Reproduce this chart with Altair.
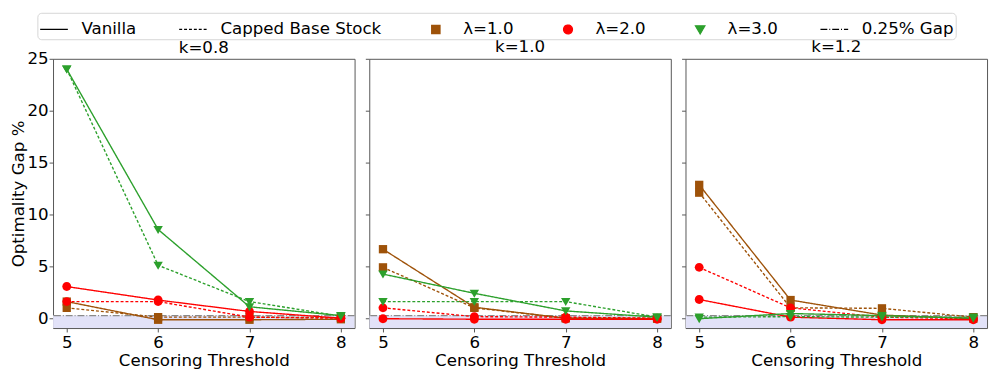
import altair as alt
import pandas as pd

thresholds = [5, 6, 7, 8]
lambdas = ["λ=1.0", "λ=2.0", "λ=3.0"]
styles = ["Vanilla", "Capped Base Stock"]

k08_l1_vanilla = [1.6, -0.15, -0.15, -0.1]
k08_l1_capped = [1.0, 0.1, 0.1, 0.05]
k08_l2_vanilla = [3.05, 1.75, 0.65, 0.0]
k08_l2_capped = [1.6, 1.6, 0.1, 0.0]
k08_l3_vanilla = [24.0, 8.55, 1.1, 0.25]
k08_l3_capped = [24.0, 5.1, 1.6, 0.2]

k10_l1_vanilla = [6.65, 1.05, 0.0, -0.05]
k10_l1_capped = [4.9, 1.0, 0.0, 0.0]
k10_l2_vanilla = [-0.05, -0.1, -0.1, -0.1]
k10_l2_capped = [1.0, 0.15, 0.1, 0.0]
k10_l3_vanilla = [4.25, 2.4, 0.7, 0.1]
k10_l3_capped = [1.6, 1.6, 1.6, 0.1]

k12_l1_vanilla = [12.85, 1.75, 0.3, -0.05]
k12_l1_capped = [12.1, 1.0, 0.95, 0.1]
k12_l2_vanilla = [1.8, 0.1, -0.15, -0.15]
k12_l2_capped = [4.9, 1.0, 0.1, -0.05]
k12_l3_vanilla = [-0.05, 0.45, 0.25, 0.0]
k12_l3_capped = [0.1, 0.15, 0.1, 0.1]

gap_threshold = 0.25
gap_label = "0.25% Gap"

series = {
    ("k=0.8", "λ=1.0", "Vanilla"): k08_l1_vanilla,
    ("k=0.8", "λ=1.0", "Capped Base Stock"): k08_l1_capped,
    ("k=0.8", "λ=2.0", "Vanilla"): k08_l2_vanilla,
    ("k=0.8", "λ=2.0", "Capped Base Stock"): k08_l2_capped,
    ("k=0.8", "λ=3.0", "Vanilla"): k08_l3_vanilla,
    ("k=0.8", "λ=3.0", "Capped Base Stock"): k08_l3_capped,
    ("k=1.0", "λ=1.0", "Vanilla"): k10_l1_vanilla,
    ("k=1.0", "λ=1.0", "Capped Base Stock"): k10_l1_capped,
    ("k=1.0", "λ=2.0", "Vanilla"): k10_l2_vanilla,
    ("k=1.0", "λ=2.0", "Capped Base Stock"): k10_l2_capped,
    ("k=1.0", "λ=3.0", "Vanilla"): k10_l3_vanilla,
    ("k=1.0", "λ=3.0", "Capped Base Stock"): k10_l3_capped,
    ("k=1.2", "λ=1.0", "Vanilla"): k12_l1_vanilla,
    ("k=1.2", "λ=1.0", "Capped Base Stock"): k12_l1_capped,
    ("k=1.2", "λ=2.0", "Vanilla"): k12_l2_vanilla,
    ("k=1.2", "λ=2.0", "Capped Base Stock"): k12_l2_capped,
    ("k=1.2", "λ=3.0", "Vanilla"): k12_l3_vanilla,
    ("k=1.2", "λ=3.0", "Capped Base Stock"): k12_l3_capped,
}

rows = []
for (k, lam, style), vals in series.items():
    for t, v in zip(thresholds, vals):
        rows.append({"k": k, "lam": lam, "style": style, "threshold": t, "gap": v})
df = pd.DataFrame(rows)

legend_keys = styles + lambdas + [gap_label]
legend_df = pd.DataFrame({"key": legend_keys})

BROWN = "#9e5209"
RED = "#ff0000"
GREEN = "#2ca02c"
LAV = "#e2e2f8"
FS = 17
SYM = 800  # common symbol size: markers drawn small inside it, line handles full length

SQUARE = "M-0.3,-0.3H0.3V0.3H-0.3Z"
CIRCLE = "M0.32,0A0.32,0.32,0,1,1,-0.32,0A0.32,0.32,0,1,1,0.32,0Z"
TRI_DOWN = "M-0.34,-0.26L0.34,-0.26L0,0.32Z"

color_scale = alt.Scale(domain=legend_keys,
                        range=["black", "black", BROWN, RED, GREEN, "black"])
shape_scale = alt.Scale(domain=legend_keys,
                        range=["stroke", "stroke", SQUARE, CIRCLE, TRI_DOWN, "stroke"])
dash_scale = alt.Scale(domain=legend_keys,
                       range=[[1, 0], [3, 2], [1, 0], [1, 0], [1, 0], [7, 2, 1, 2]])
size_scale = alt.Scale(type="ordinal", domain=legend_keys, range=[SYM] * 6)

x_scale = alt.Scale(domain=[4.85, 8.15], nice=False, zero=False)
y_scale = alt.Scale(domain=[-0.95, 25], nice=False, zero=False)

leg = alt.Legend(title=None, orient="none", legendX=-16, legendY=-47, offset=0,
                 direction="horizontal", labelFontSize=17, labelFont="DejaVu Sans",
                 labelColor="black", labelLimit=400, columnPadding=40, labelOffset=13,
                 padding=2, strokeColor="#d5d5d5", fillColor="white",
                 cornerRadius=4, symbolStrokeWidth=1.3, symbolOpacity=1)


def panel(k, first):
    d = df[df["k"] == k]
    x = alt.X("threshold:Q", scale=x_scale,
              axis=alt.Axis(title="Censoring Threshold", values=thresholds, format="d",
                            labelPadding=3, titlePadding=2))
    y = alt.Y("gap:Q", scale=y_scale,
              axis=alt.Axis(title="Optimality Gap %" if first else None,
                            values=[0, 5, 10, 15, 20, 25], labels=first,
                            labelPadding=1, titlePadding=0))
    band = alt.Chart(pd.DataFrame({"lo": [-1.0], "hi": [gap_threshold]})).mark_rect(
        color=LAV, clip=True).encode(
        y=alt.Y("lo:Q", scale=y_scale), y2="hi:Q")
    rule = alt.Chart(pd.DataFrame({"g": [gap_threshold]})).mark_rule(
        color="#8a8a8a", strokeDash=[7, 2, 1, 2], strokeWidth=1.2).encode(
        y=alt.Y("g:Q", scale=y_scale))
    lines = alt.Chart(d).mark_line(strokeWidth=1.4).encode(
        x=x, y=y,
        color=alt.Color("lam:N", scale=color_scale, legend=leg),
        strokeDash=alt.StrokeDash("style:N", scale=dash_scale, legend=leg),
    )
    pts = alt.Chart(d).mark_point(filled=True, size=SYM, opacity=1).encode(
        x=x, y=y,
        color=alt.Color("lam:N", scale=color_scale, legend=leg),
        shape=alt.Shape("lam:N", scale=shape_scale, legend=leg),
    )
    layers = [band, rule, lines, pts]
    if first:
        legend_layer = alt.Chart(legend_df).transform_filter("false").mark_point(
            filled=True).encode(
            color=alt.Color("key:N", scale=color_scale, legend=leg),
            stroke=alt.Stroke("key:N", scale=color_scale, legend=leg),
            shape=alt.Shape("key:N", scale=shape_scale, legend=leg),
            strokeDash=alt.StrokeDash("key:N", scale=dash_scale, legend=leg),
            size=alt.Size("key:N", scale=size_scale, legend=leg),
        )
        layers.append(legend_layer)
    return alt.layer(*layers).properties(
        width=308, height=275,
        title=alt.TitleParams(k, fontSize=FS, font="DejaVu Sans", fontWeight="normal",
                              color="black", offset=2, dy=9 if first else 0))


chart = alt.hconcat(panel("k=0.8", True), panel("k=1.0", False), panel("k=1.2", False),
                    spacing=8).configure(
    padding={"left": 0, "top": 0, "right": 0, "bottom": 0},
    font="DejaVu Sans",
).configure_view(
    stroke="#555555", strokeWidth=1
).configure_axis(
    labelFontSize=FS, titleFontSize=FS, labelFont="DejaVu Sans", titleFont="DejaVu Sans",
    labelColor="black", titleColor="black", titleFontWeight="normal",
    grid=False, domain=False, tickColor="#555555", tickSize=4,
)

chart.save("out.html", embed_options={"renderer": "svg", "actions": False})
